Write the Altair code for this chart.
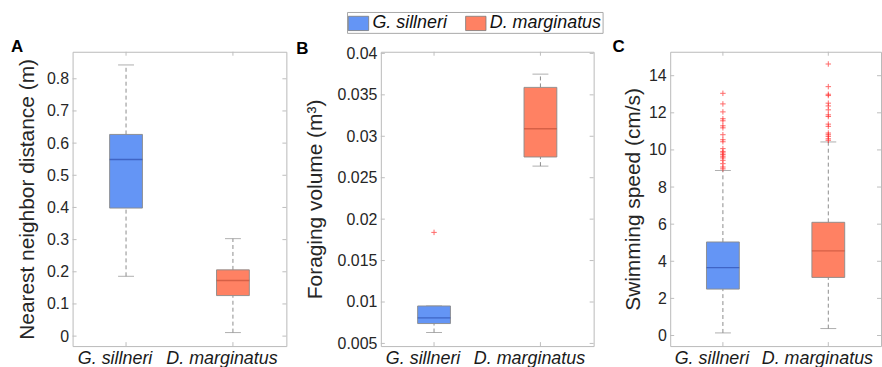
import altair as alt
import pandas as pd

categories = ["G. sillneri", "D. marginatus"]
fill_colors = ["#6495f5", "#ff8163"]
median_colors = ["#2f50b0", "#c4523a"]

# Panel A: nearest neighbor distance (m)
nnd_lower = [0.186, 0.011]
nnd_q1 = [0.398, 0.126]
nnd_median = [0.549, 0.173]
nnd_q3 = [0.627, 0.206]
nnd_upper = [0.843, 0.303]
nnd_out_cat = []
nnd_out_val = []
nnd_ticks = [0, 0.1, 0.2, 0.3, 0.4, 0.5, 0.6, 0.7, 0.8]
nnd_domain = [-0.031, 0.884]

# Panel B: foraging volume (m3)
fv_lower = [0.00632, 0.0264]
fv_q1 = [0.0074, 0.0275]
fv_median = [0.00808, 0.0309]
fv_q3 = [0.00952, 0.0359]
fv_upper = [0.00952, 0.0375]
fv_out_cat = ["G. sillneri"]
fv_out_val = [0.0184]
fv_ticks = [0.005, 0.01, 0.015, 0.02, 0.025, 0.03, 0.035, 0.04]
fv_domain = [0.00468, 0.0402]

# Panel C: swimming speed (cm/s)
sw_lower = [0.14, 0.375]
sw_q1 = [2.50, 3.13]
sw_median = [3.66, 4.56]
sw_q3 = [5.04, 6.10]
sw_upper = [8.89, 10.43]
sw_out_g = [8.98, 9.08, 9.26, 9.44, 9.57, 9.66, 9.75, 9.84, 9.92, 10.07,
            10.44, 10.55, 10.82, 11.19, 11.30, 11.57, 11.68, 12.05, 12.48, 13.05]
sw_out_d = [10.52, 10.60, 10.73, 10.82, 10.91, 11.27, 11.39, 11.80, 11.89,
            12.16, 12.37, 12.52, 12.93, 13.0, 13.41, 14.63]
sw_ticks = [0, 2, 4, 6, 8, 10, 12, 14]
sw_domain = [-0.57, 15.29]

H = 296
FONT = "Liberation Sans"
GRAY = "#8c8c8c"
TICKC = "#bdbdbd"

legend = alt.Legend(
    title=None, orient="none", legendX=276, legendY=-40, direction="horizontal",
    symbolType="M-1,-0.7H1V0.7H-1Z", symbolSize=420, symbolStrokeColor="#7a7a7a",
    symbolStrokeWidth=0.8, symbolOpacity=1, labelFontSize=18, labelFontStyle="italic",
    labelFont=FONT, labelColor="#111111", labelOffset=3, columnPadding=16,
    padding=0.5, strokeColor="#a8a8a8",
)


def panel(lower, q1, med, q3, upper, out_cat, out_val, ticks, domain, ytitle,
          letter, width, title_pad, letter_dx, letter_dy):
    stats = pd.DataFrame({"cat": categories, "lower": lower, "q1": q1,
                          "med": med, "q3": q3, "upper": upper})
    outl = pd.DataFrame({"cat": out_cat, "val": out_val})
    tk = pd.DataFrame({"t": ticks})

    xenc = alt.X("cat:N", sort=categories,
                 scale=alt.Scale(domain=categories, paddingInner=0, paddingOuter=0),
                 axis=alt.Axis(title=None, labelAngle=0, labelFontStyle="italic",
                               labelFontSize=18, labelPadding=4, labelOffset=-11,
                               ticks=False, tickSize=0, domain=False, grid=False,
                               labelColor="#1a1a1a"))
    yscale = alt.Scale(domain=domain, nice=False, zero=False)
    yaxis = alt.Axis(title=ytitle, values=ticks, format="~g", ticks=False,
                     tickSize=0, domain=False, grid=False, labelPadding=4,
                     titlePadding=title_pad, labelFontSize=16, titleFontSize=21,
                     titleFontWeight="normal", labelColor="#262626",
                     titleColor="#262626")

    def Y(field):
        return alt.Y(field, scale=yscale, axis=yaxis)

    base = alt.Chart(stats)
    whisk_hi = base.mark_rule(color=GRAY, strokeDash=[4, 3], strokeWidth=1).encode(
        x=xenc, y=Y("q3:Q"), y2="upper:Q")
    whisk_lo = base.mark_rule(color=GRAY, strokeDash=[4, 3], strokeWidth=1).encode(
        x=xenc, y=Y("lower:Q"), y2="q1:Q")
    cap_hi = base.mark_tick(color=GRAY, size=16, thickness=1).encode(x=xenc, y=Y("upper:Q"))
    cap_lo = base.mark_tick(color=GRAY, size=16, thickness=1).encode(x=xenc, y=Y("lower:Q"))
    box = base.mark_bar(size=33, stroke="#8a8a8a", strokeWidth=0.9).encode(
        x=xenc, y=Y("q1:Q"), y2="q3:Q",
        fill=alt.Fill("cat:N", scale=alt.Scale(domain=categories, range=fill_colors),
                      legend=legend))
    median = base.mark_tick(size=33, thickness=1.4).encode(
        x=xenc, y=Y("med:Q"),
        color=alt.Color("cat:N", scale=alt.Scale(domain=categories, range=median_colors),
                        legend=None))
    layers = [whisk_hi, whisk_lo, cap_hi, cap_lo, box, median]
    if len(out_val):
        outs = alt.Chart(outl).mark_point(
            shape="M-1,0H1M0,-1V1", size=30, filled=False, color="#ff2a2a",
            strokeWidth=1, opacity=0.7).encode(x=xenc, y=Y("val:Q"))
        layers.append(outs)
    # inward ticks (MATLAB style)
    tl = alt.Chart(tk).mark_rule(color=TICKC).encode(
        y=Y("t:Q"), x=alt.value(0), x2=alt.value(4))
    tr = alt.Chart(tk).mark_rule(color=TICKC).encode(
        y=Y("t:Q"), x=alt.value(width - 4), x2=alt.value(width))
    tb = base.mark_rule(color=TICKC).encode(x=xenc, y=alt.value(H), y2=alt.value(H - 4))
    tt = base.mark_rule(color=TICKC).encode(x=xenc, y=alt.value(0), y2=alt.value(4))
    layers += [tl, tr, tb, tt]
    return alt.layer(*layers).properties(
        width=width, height=H,
        title=alt.TitleParams(letter, anchor="start", frame="group", orient="top",
                              dx=letter_dx, dy=letter_dy, offset=0, fontSize=17,
                              fontWeight="bold", font=FONT, color="#000000",
                              baseline="alphabetic"),
    )


A = panel(nnd_lower, nnd_q1, nnd_median, nnd_q3, nnd_upper, nnd_out_cat, nnd_out_val,
          nnd_ticks, nnd_domain, "Nearest neighbor distance (m)", "A", 215, 9, -62, 18)

B = panel(fv_lower, fv_q1, fv_median, fv_q3, fv_upper, fv_out_cat, fv_out_val,
          fv_ticks, fv_domain, "Foraging volume (m³)", "B", 214, 12, -85, 26)

sw_out_cat = [categories[0]] * len(sw_out_g) + [categories[1]] * len(sw_out_d)
sw_out_val = sw_out_g + sw_out_d
C = panel(sw_lower, sw_q1, sw_median, sw_q3, sw_upper, sw_out_cat, sw_out_val,
          sw_ticks, sw_domain, "Swimming speed (cm/s)", "C", 212, 5, -58, 18)

AB = alt.hconcat(A, B, spacing=8).resolve_scale(x="independent", y="independent")
chart = alt.hconcat(AB, C, spacing=17).resolve_scale(
    x="independent", y="independent"
).configure_view(stroke="#b9b9b9", strokeWidth=1).configure_axis(
    labelFont=FONT, titleFont=FONT
).configure_legend(strokeWidth=1).properties(
    padding={"left": 10, "top": 10, "right": 0, "bottom": 0},
    background="white",
)

chart.save("out.html", embed_options={"renderer": "svg", "actions": False})
